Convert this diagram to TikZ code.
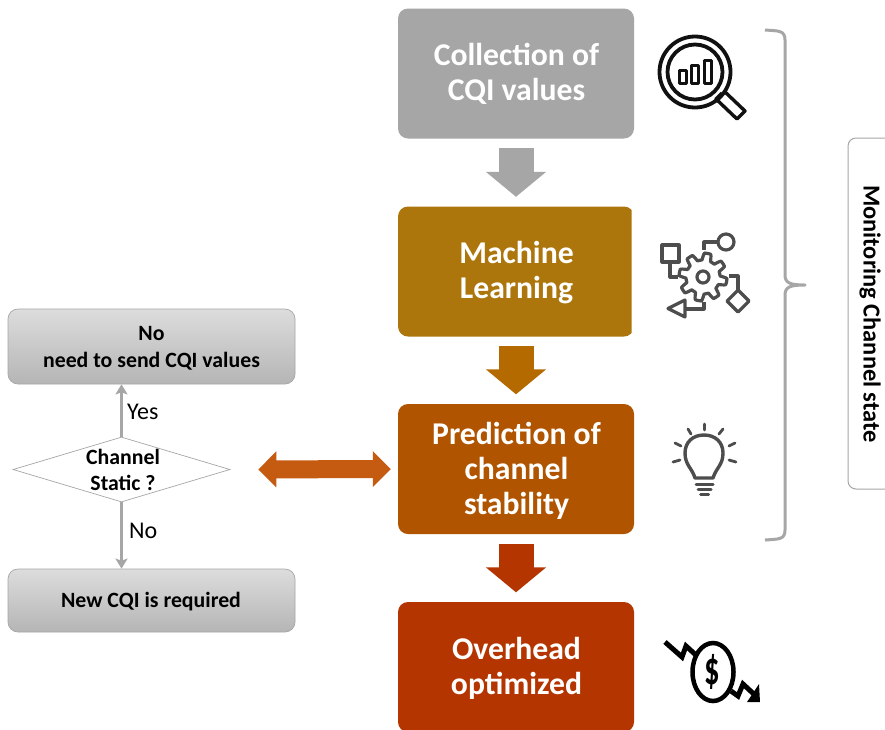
\documentclass[tikz,border=0pt]{standalone}
\usepackage{fontspec}
\setmainfont{Carlito}
\usetikzlibrary{arrows.meta,shapes.geometric,calc}
\definecolor{cgray}{HTML}{A6A6A6}
\definecolor{cgold}{HTML}{AC760C}
\definecolor{carrow}{HTML}{B56A00}
\definecolor{corange}{HTML}{B05400}
\definecolor{cred}{HTML}{B53500}
\definecolor{cdbl}{HTML}{C55A11}
\definecolor{icondark}{HTML}{111111}
\definecolor{icongray}{HTML}{4D4D4D}
\tikzset{
  mainbox/.style={rectangle,rounded corners=10pt,minimum width=236pt,minimum height=130pt,inner sep=0pt},
  maintext/.style={inner sep=0pt,text=white,align=center,font=\fontsize{31.7}{35}\selectfont\bfseries},
  sidebox/.style={rectangle,rounded corners=10pt,minimum width=287pt,inner sep=0pt,draw=cgray,line width=.7pt,
    top color=gray!27,bottom color=gray!58},
  sidetext/.style={inner sep=0pt,align=center,font=\fontsize{21.8}{27}\selectfont\bfseries},
  blockarrow/.style={line width=35pt,-{Triangle[width=59pt,length=25pt]},shorten <=9.5pt,shorten >=9.5pt},
  thin arrow/.style={draw=cgray,line width=3pt,-{Stealth[length=10pt,width=12pt,inset=2pt]}},
  flowlabel/.style={font=\fontsize{24}{26}\selectfont,inner sep=0pt},
  gearline/.style={draw=icongray,line width=3.2pt,line join=round,fill=white},
}
\begin{document}
\begin{tikzpicture}[x=1pt,y=-1pt]
\useasboundingbox (0,0) rectangle (885,729);
\fill[white] (0,0) rectangle (885,729);

% main column
\node[mainbox,fill=cgray] (b1) at (516,73.5) {};
\begin{scope}
\clip (390,200) rectangle (631.5,345);
\node[mainbox,fill=cgold] (b2) at (516,271.5) {};
\end{scope}
\node[mainbox,fill=corange] (b3) at (516,469) {};
\node[mainbox,fill=cred] (b4) at (516,667) {};
\node[maintext] (t1) at (516.5,73.5) {Collection of\\CQI values};
\node[maintext] (t2) at (516.5,272.5) {Machine\\Learning};
\node[maintext] (t3) at (516.5,470.5) {Prediction of\\channel\\stability};
\node[maintext] (t4) at (516.5,668) {Overhead\\optimized};

\draw[blockarrow,draw=cgray] (b1) -- (b2);
\draw[blockarrow,draw=carrow] (b2) -- (b3);
\draw[blockarrow,draw=cred] (b3) -- (b4);

% left flow
\node[sidebox,minimum height=75pt] (no) at (151.5,346.5) {};
\node[sidebox,minimum height=63pt] (new) at (151.5,600.5) {};
\node[sidetext] (notext) at (151.5,348) {No\\need to send CQI values};
\node[sidetext] (newtext) at (151,602) {New CQI is required};
\node[diamond,aspect=3.34,draw=cgray,line width=.7pt,fill=white,inner sep=0pt,minimum width=217pt,minimum height=65pt] (dec) at (121.5,469.5) {};
\node[align=center,font=\fontsize{21.8}{26}\selectfont\bfseries,inner sep=0pt] (dectext) at (123,470) {Channel\\Static ?};
\draw[thin arrow] (dec.north) -- (dec.north |- no.south);
\draw[thin arrow] (dec.south) -- (dec.south |- new.north);
\node[flowlabel,anchor=west] (yes) at (127,412) {Yes};
\node[flowlabel,anchor=west] (nolab) at (129,531) {No};

\draw[draw=cdbl,line width=18pt,{Triangle[width=35pt,length=18pt]}-{Triangle[width=35pt,length=18pt]},shorten <=28pt,shorten >=7pt]
  (dec.east) -- (b3.west);

% bracket
\draw[cgray,line width=3pt,line join=round]
  (765,30) .. controls (778,31) and (785,30) .. (785,40)
  -- (785,275) .. controls (785,283) and (790,285) .. (805,285)
  .. controls (790,285) and (785,287) .. (785,295)
  -- (785,530) .. controls (785,540) and (778,539) .. (765,540);

% monitoring box
\node[rectangle,rounded corners=8pt,draw=cgray,line width=1pt,minimum width=60pt,minimum height=351pt,inner sep=0pt] (mon) at (878,313.5) {};
\node[rotate=-90,font=\fontsize{24.4}{26}\selectfont\bfseries,inner sep=0pt] (montext) at (870,314) {Monitoring Channel state};

% icon 1: magnifier
\draw[icondark,line width=3.8pt] (695,72) circle (35.5);
\draw[icondark,line width=3.8pt] (695,72) circle (27.5);
\draw[icondark,line width=3pt,line join=round] (679.5,70) rectangle (686.5,83);
\draw[icondark,line width=3pt,line join=round] (691.5,65) rectangle (698.5,83);
\draw[icondark,line width=3pt,line join=round] (704,60) rectangle (711,83);
\draw[icondark,line width=3.4pt,line join=round] (722,93) -- (716,99) -- (737,119) -- (745,111) -- (724,91);

% icon 2: process gear
\begin{scope}[shift={(703,277)}]
\draw[gearline] plot[domain=0:360,samples=193] (\x:{20.5+3.5*max(-1,min(1,2.2*sin(8*\x)))}) -- cycle;
\draw[gearline] (0,0) circle (6);
\end{scope}
\draw[gearline] (662,245) rectangle (679,262);
\draw[gearline,fill=none] (670,262) -- (670,277) -- (678,277);
\draw[gearline] (726,242) circle (8);
\draw[gearline,fill=none] (718,242) -- (704,242) -- (704,250);
\draw[gearline] (738,290) -- (749,301) -- (738,312) -- (727,301) -- cycle;
\draw[gearline,fill=none] (738,290) -- (738,276) -- (729,276);
\draw[gearline] (668,308.5) -- (685,300) -- (685,317) -- cycle;
\draw[gearline,fill=none] (685,309) -- (704,309) -- (704,302);

% icon 3: bulb
\draw[icongray,line width=3.4pt,line join=round]
  (695,478) .. controls (692,468) and (685,465) .. (685,453)
  .. controls (685,442) and (693,435) .. (704,435)
  .. controls (715,435) and (723,442) .. (723,453)
  .. controls (723,465) and (716,468) .. (713,478) -- cycle;
\draw[icongray,line width=3pt,line cap=round]
  (696,484) -- (713,484) (698,489) -- (711,489) (700.5,494.5) -- (708.5,494.5);
\draw[icongray,line width=2.8pt,line cap=round]
  (704.5,424) -- (704.5,430) (688,429) -- (691,434) (723,429) -- (719,434)
  (675,443) -- (681,446) (735,443) -- (729,446) (673,462) -- (680,460) (736,462) -- (729,460);

% icon 4: dollar
\draw[black,line width=4.5pt] (713,672) ellipse (20.5 and 29);
\node[font=\fontsize{36}{36}\selectfont\bfseries,inner sep=0pt,xscale=.85,yscale=1.3] (dollar) at (712,672) {\$};
\draw[black,line width=5pt,line join=miter] (665,642) -- (682,657) -- (686,646) -- (697,656);
\draw[black,line width=5pt,line join=miter] (731,691) -- (738,696) -- (743,684) -- (757,697);
\fill[black] (759,684) -- (760,702) -- (747,702) -- cycle;
\end{tikzpicture}
\end{document}
